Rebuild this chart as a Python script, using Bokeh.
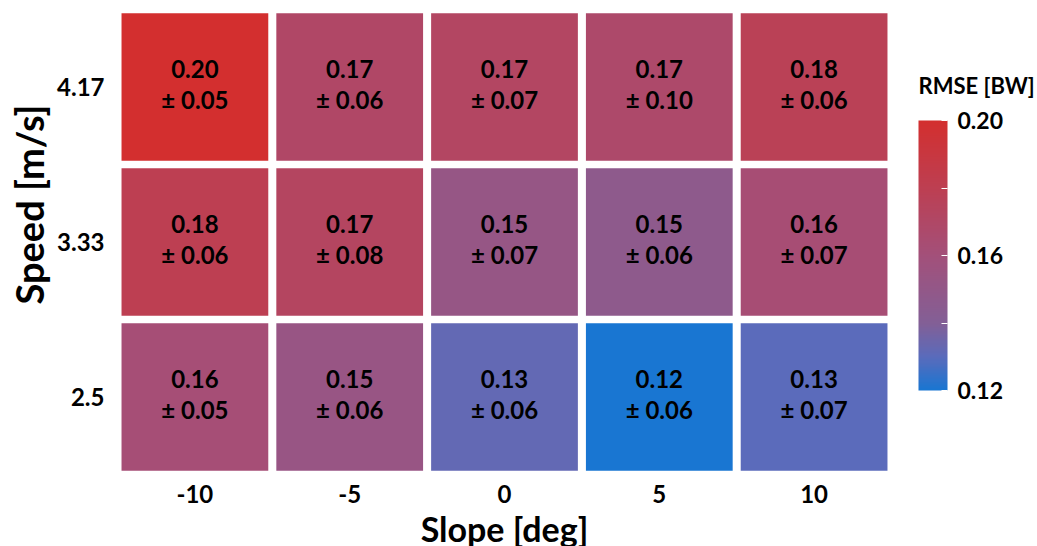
import numpy as np
from bokeh.plotting import figure
from bokeh.models import (ColumnDataSource, LinearColorMapper, ColorBar, FixedTicker,
                          FactorRange, PrintfTickFormatter, Title)
from bokeh.transform import transform
from bokeh.core.properties import value
from bokeh.embed import file_html
from bokeh.resources import INLINE

slopes = ["-10", "-5", "0", "5", "10"]
speeds = ["2.5", "3.33", "4.17"]
# mean RMSE per (speed, slope)
rmse_250 = [0.162, 0.153, 0.132, 0.120, 0.130]
rmse_333 = [0.180, 0.173, 0.152, 0.147, 0.163]
rmse_417 = [0.200, 0.170, 0.172, 0.168, 0.178]
# standard deviations
sd_250 = [0.05, 0.06, 0.06, 0.06, 0.07]
sd_333 = [0.06, 0.08, 0.07, 0.06, 0.07]
sd_417 = [0.05, 0.06, 0.07, 0.10, 0.06]
cbar_ticks = [0.12, 0.16, 0.20]
cbar_minor = [0.14, 0.18]

FONT = "Lato"

xs, ys, ms, sds = [], [], [], []
for sp, m_row, s_row in zip(speeds, [rmse_250, rmse_333, rmse_417], [sd_250, sd_333, sd_417]):
    for sl, m, s in zip(slopes, m_row, s_row):
        xs.append(sl); ys.append(sp); ms.append(m); sds.append(s)
src = ColumnDataSource(dict(
    x=xs, y=ys, m=ms,
    top=[f"{m:.2f}" for m in ms],
    bot=[f"\u00b1 {s:.2f}" for s in sds],
))

# palette built from colour stops
stops = [(0.0, "#1976d2"), (0.125, "#5b6bbb"), (0.25, "#835f96"), (0.5, "#a3507a"),
         (0.75, "#bd3f52"), (1.0, "#d32f2f")]
def hx(c):
    return np.array([int(c[i:i + 2], 16) for i in (1, 3, 5)], dtype=float)
pos = np.array([s[0] for s in stops])
cols = np.array([hx(s[1]) for s in stops])
t = np.linspace(0, 1, 256)
pal = []
for tt in t:
    rgb = [np.interp(tt, pos, cols[:, k]) for k in range(3)]
    pal.append("#%02x%02x%02x" % tuple(int(round(v)) for v in rgb))

mapper = LinearColorMapper(palette=pal, low=0.12, high=0.20)

p = figure(x_range=FactorRange(*slopes), y_range=FactorRange(*speeds),
           frame_width=774, frame_height=465,
           min_border_left=117, min_border_top=9, min_border_bottom=10, min_border_right=144,
           output_backend="svg", toolbar_location=None, tools="")

p.rect(x="x", y="y", width=0.948, height=0.952, source=src,
       fill_color=transform("m", mapper), line_color=None)
p.text(x="x", y="y", text="top", source=src, text_align="center", text_baseline="middle",
       y_offset=-18, text_font=value(FONT), text_font_style="bold", text_font_size="24px",
       text_color="black")
p.text(x="x", y="y", text="bot", source=src, text_align="center", text_baseline="middle",
       y_offset=12, text_font=value(FONT), text_font_style="bold", text_font_size="24px",
       text_color="black")

p.outline_line_color = None
p.grid.grid_line_color = None
for ax in (p.xaxis, p.yaxis):
    ax.axis_line_color = None
    ax.major_tick_line_color = None
    ax.minor_tick_line_color = None
    ax.major_label_text_font = FONT
    ax.major_label_text_font_style = "bold"
    ax.major_label_text_font_size = "24px"
    ax.major_label_text_color = "black"
    ax.axis_label_text_font = FONT
    ax.axis_label_text_font_style = "bold"
    ax.axis_label_text_color = "black"
p.xaxis.axis_label = "Slope [deg]"
p.xaxis.axis_label_text_font_size = "34px"
p.xaxis.major_label_standoff = 4
p.yaxis.major_label_standoff = 7
p.xaxis.axis_label_standoff = 2

# y-axis title, placed higher than the frame centre as in the reference
ytitle = Title(text="Speed [m/s]", align="left", offset=170, standoff=6,
               text_font=FONT, text_font_style="bold", text_font_size="38px",
               text_color="black")
p.add_layout(ytitle, "left")

cb = ColorBar(color_mapper=mapper,
              ticker=FixedTicker(ticks=cbar_ticks, minor_ticks=cbar_minor),
              formatter=PrintfTickFormatter(format="%.2f"),
              width=29, height=270,
              major_label_text_font=FONT, major_label_text_font_style="bold",
              major_label_text_font_size="23px", major_label_text_color="black",
              major_tick_line_color="white", major_tick_in=6, major_tick_out=0,
              minor_tick_line_color="white", minor_tick_in=6, minor_tick_out=0,
              bar_line_color=None, label_standoff=10, padding=0, margin=0,
              location=(801, 84), border_line_color=None, background_fill_color=None)
p.add_layout(cb, "center")

# horizontal, invisible bar used only to carry the colour-bar title
cb_title = ColorBar(color_mapper=mapper, orientation="horizontal", width=130, height=1,
                    title="RMSE [BW]", title_text_font=FONT, title_text_font_style="bold",
                    title_text_font_size="22px", title_text_color="black", title_standoff=0,
                    ticker=FixedTicker(ticks=[]), major_tick_line_color=None,
                    minor_tick_line_color=None, scale_alpha=0, bar_line_color=None,
                    padding=0, margin=0, location=(801, 375),
                    border_line_color=None, background_fill_color=None)
p.add_layout(cb_title, "center")

open("out.html", "w").write(file_html(p, INLINE))
